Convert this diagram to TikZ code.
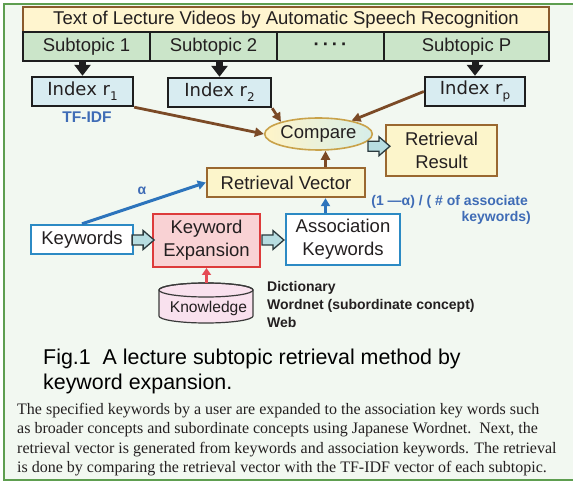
\documentclass[tikz,border=0pt]{standalone}
\usepackage{fontspec}
\setmainfont{Liberation Sans}
\newfontfamily\parafont{Liberation Serif}
\newfontfamily\idxfont{DejaVu Sans}
\usetikzlibrary{calc,arrows.meta,shapes.geometric}

\definecolor{bgc}{HTML}{F2F8F1}
\definecolor{framec}{HTML}{5E9E50}
\definecolor{titlefill}{HTML}{FFF5CF}
\definecolor{titleline}{HTML}{8A5A2C}
\definecolor{subfill}{HTML}{CBE5C9}
\definecolor{idxfill}{HTML}{D8ECF1}
\definecolor{darkline}{HTML}{1E1E1E}
\definecolor{brownarr}{HTML}{7B4A26}
\definecolor{cmpline}{HTML}{C9A24A}
\definecolor{cmpleft}{HTML}{FFF4C8}
\definecolor{cmpright}{HTML}{D6EEEA}
\definecolor{resfill}{HTML}{FCF5CB}
\definecolor{resline}{HTML}{9A6830}
\definecolor{barfill}{HTML}{B7DDE1}
\definecolor{barline}{HTML}{2B3A3E}
\definecolor{kwline}{HTML}{2C8AC4}
\definecolor{kefill}{HTML}{F9D2D4}
\definecolor{keline}{HTML}{DD3B3B}
\definecolor{redarr}{HTML}{E54B55}
\definecolor{knowfill}{HTML}{F9E1EE}
\definecolor{knowline}{HTML}{3A3A3A}
\definecolor{bluearr}{HTML}{2D74BC}
\definecolor{bluetext}{HTML}{3F6CB6}
\definecolor{inktext}{HTML}{231F20}

\tikzset{
  boxtext/.style={font=\fontsize{18.5}{23}\selectfont, text=inktext, align=center, inner sep=0pt},
  titlebar/.style={boxtext, draw=titleline, fill=titlefill, line width=1.8pt},
  subcell/.style={boxtext, draw=darkline, fill=subfill, line width=2.2pt},
  idxbox/.style={boxtext, font=\idxfont\fontsize{18}{22}\selectfont, draw=darkline, fill=idxfill, line width=2.4pt},
  yellowbox/.style={boxtext, draw=resline, fill=resfill, line width=2.4pt},
  bluebox/.style={boxtext, draw=kwline, fill=white, line width=2.4pt},
  pinkbox/.style={boxtext, draw=keline, fill=kefill, line width=2pt},
  cmpnode/.style={boxtext, ellipse, draw=cmpline, left color=cmpleft, right color=cmpright, line width=1.6pt},
  downarrow/.style={draw=darkline, line width=7pt, -{Triangle[length=11pt,width=16pt]}},
  brownline/.style={draw=brownarr, line width=2.8pt, -{Triangle[length=9pt,width=9pt]}},
  blueline/.style={draw=bluearr, line width=3pt, -{Triangle[length=8pt,width=9pt]}},
  redline/.style={draw=redarr, line width=2.6pt, -{Triangle[length=7pt,width=9pt]}},
  bluelabel/.style={font=\bfseries\fontsize{14}{17}\selectfont, text=bluetext, inner sep=0pt},
  notetext/.style={font=\bfseries\fontsize{14}{18}\selectfont, text=inktext, inner sep=0pt, anchor=base west},
  paraline/.style={font=\parafont\fontsize{16}{19.5}\selectfont, text=inktext, inner sep=0pt, anchor=base west},
  capline/.style={font=\fontsize{21.4}{25}\selectfont, text=black, inner sep=0pt, anchor=base west},
  blockarrow/.pic={
    \filldraw[fill=barfill, draw=barline, line width=1.3pt]
      (-11,-5) -- (0,-5) -- (0,-9.5) -- (11,0) -- (0,9.5) -- (0,5) -- (-11,5) -- cycle;
  }
}
\newcommand\idxsub[1]{\raisebox{-5pt}{\fontsize{12}{12}\selectfont #1}}

\begin{document}
\begin{tikzpicture}[x=1pt,y=1pt]
\useasboundingbox (0,0) rectangle (573,-486);

% panel background and frame
\fill[bgc] (4,-4) rectangle (573,-480);
\draw[framec, line width=2.2pt] (573,-4) -- (4,-4) -- (4,-480) -- (573,-480);

% transcript bar and its subtopics
\node[titlebar, minimum width=526, minimum height=25] (title) at (286,-19.5)
  {Text of Lecture Videos by Automatic Speech Recognition};
\node[subcell, minimum width=127, minimum height=29] (s1) at (86.5,-46.5) {Subtopic 1};
\node[subcell, minimum width=127, minimum height=29] (s2) at (213.5,-46.5) {Subtopic 2};
\node[subcell, minimum width=107, minimum height=29] (sd) at (330.5,-46.5) {\bfseries ·\hspace{3pt}·\hspace{3pt}·\hspace{3pt}·};
\node[subcell, minimum width=165, minimum height=29] (sp) at (466.5,-46.5) {Subtopic P};

% per-subtopic indexes
\node[idxbox, minimum width=101, minimum height=29] (i1) at (82.5,-91.5) {Index r\idxsub{1}};
\node[idxbox, minimum width=103, minimum height=29] (i2) at (219.5,-92.5) {Index r\idxsub{2}};
\node[idxbox, minimum width=100, minimum height=29] (ip) at (475,-91.5) {Index r\idxsub{p}};
\node[bluelabel, font=\bfseries\fontsize{15.5}{18}\selectfont] (tfidf) at (87,-117) {TF-IDF};

\draw[downarrow] (i1.north |- s1.south) -- (i1.north);
\draw[downarrow] (i2.north |- s2.south) -- (i2.north);
\draw[downarrow] (ip.north |- sp.south) -- (ip.north);

% comparison and result
\node[cmpnode, minimum width=83, minimum height=32] (cmp) at (318.5,-134) {Compare};
\node[yellowbox, minimum width=111, minimum height=51] (res) at (441.5,-150.5) {Retrieval\\Result};
\pic at ($(cmp.east)!0.5!(res.west)+(0,-4)$) {blockarrow};

\draw[brownline] (i1.south east) -- (cmp.west);
\draw[brownline] (i2.south east) -- (cmp.162);
\draw[brownline] (ip.west) -- (cmp.22);

% retrieval vector built from the keywords
\node[yellowbox, minimum width=158, minimum height=29] (rv) at (286,-182.5) {Retrieval Vector};
\coordinate (vx) at (325.5,-160);
\draw[brownline] (rv.north -| vx) -- (cmp.south -| vx);

\node[bluebox, minimum width=102, minimum height=29] (kw) at (82,-239.5) {Keywords};
\node[pinkbox, minimum width=107, minimum height=53] (ke) at (206.5,-240.5) {Keyword\\Expansion};
\node[bluebox, minimum width=114, minimum height=51] (ak) at (343,-239.5) {Association\\Keywords};
\pic at ($(kw.east)!0.5!(ke.west)$) {blockarrow};
\pic at ($(ke.east)!0.5!(ak.west)$) {blockarrow};

\draw[blueline] (kw.north) -- (rv.west);
\node[bluelabel] (alpha) at (142,-191) {α};
\draw[blueline] (ak.north -| vx) -- (rv.south -| vx);
\node[bluelabel, anchor=base east] (wlab1) at (528,-206) {(1 —α) / ( \# of associate};
\node[bluelabel, anchor=base east] (wlab2) at (531,-222) {keywords)};

% knowledge store
\filldraw[fill=knowfill, draw=knowline, line width=1.2pt]
  (159,-290) -- (159,-316) arc (180:360:47 and 7) -- (253,-290) arc (0:180:47 and 7) -- cycle;
\draw[knowline, line width=1.2pt] (206,-290) ellipse (47 and 7);
\node[boxtext, font=\fontsize{15.6}{18}\selectfont] (know) at (208.5,-308) {Knowledge};
\coordinate (knowtop) at (206.5,-283);
\draw[redline] (knowtop) -- (ke.south);

\node[notetext] (src1) at (267,-292) {Dictionary};
\node[notetext] (src2) at (267,-310) {Wordnet (subordinate concept)};
\node[notetext] (src3) at (267,-328) {Web};

% caption
\node[capline] (cap1) at (43,-364) {Fig.1\ \ A lecture subtopic retrieval method by};
\node[capline] (cap2) at (43,-389) {keyword expansion.};

% description
\node[paraline] (p1) at (17,-414) {The specified keywords by a user are expanded to the association key words such};
\node[paraline] (p2) at (17,-433.5) {as broader concepts and subordinate concepts using Japanese Wordnet.\ \ Next, the};
\node[paraline] (p3) at (17,-453) {retrieval vector is generated from keywords and association keywords. The retrieval};
\node[paraline] (p4) at (17,-472.5) {is done by comparing the retrieval vector with the TF-IDF vector of each subtopic.};
\end{tikzpicture}
\end{document}
